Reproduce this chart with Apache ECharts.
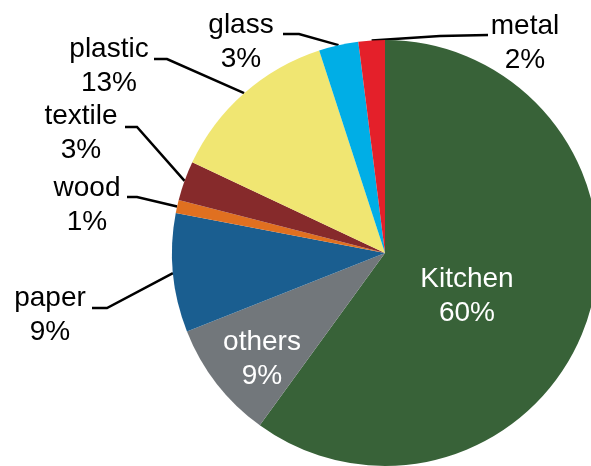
<!DOCTYPE html>
<html>
<head>
<meta charset="utf-8">
<script src="https://cdn.jsdelivr.net/npm/echarts@6/dist/echarts.min.js"></script>
<style>
  html, body { margin: 0; padding: 0; background: #ffffff; }
  #chart { width: 591px; height: 466px; }
</style>
</head>
<body>
<div id="chart"></div>
<script>
// ---- data ----
const categories = ['Kitchen', 'others', 'paper', 'wood', 'textile', 'plastic', 'glass', 'metal'];
const shares = [60, 9, 9, 1, 3, 13, 3, 2];

// ---- styling / layout (not data) ----
const palette = {
  Kitchen: '#386238', others: '#72777b', paper: '#1a5e90', wood: '#e07020',
  textile: '#862a2b', plastic: '#f0e672', glass: '#00aee6', metal: '#e4202a'
};
const insideNames = ['Kitchen', 'others'];
const FONT = 28, LINE_H = 34, MID_OFF = 9;
// label anchor: center x and first-line baseline; leader line elbow/end points
const spots = {
  Kitchen: { cx: 467, base: 288 },
  others:  { cx: 262, base: 351 },
  paper:   { cx: 50,  base: 307, elbow: [107, 308], end: [92, 308] },
  wood:    { cx: 87,  base: 197, elbow: [137, 197], end: [127, 197] },
  textile: { cx: 81,  base: 125, elbow: [137, 127], end: [125, 127] },
  plastic: { cx: 109, base: 58,  elbow: [167, 59],  end: [154, 59] },
  glass:   { cx: 241, base: 34,  elbow: [299, 34],  end: [283, 34] },
  metal:   { cx: 525, base: 35,  elbow: [440, 36],  end: [488, 35] }
};

const seriesData = categories.map(function (name, i) {
  const inside = insideNames.indexOf(name) >= 0;
  return {
    name: name,
    value: shares[i],
    itemStyle: { color: palette[name] },
    label: {
      position: inside ? 'inside' : 'outside',
      color: inside ? '#ffffff' : '#000000'
    },
    labelLine: { show: !inside }
  };
});

const chart = echarts.init(document.getElementById('chart'), null, { renderer: 'canvas' });
chart.setOption({
  animation: false,
  backgroundColor: '#ffffff',
  series: [{
    type: 'pie',
    center: [385, 253],
    radius: 213,
    startAngle: 90,
    clockwise: true,
    avoidLabelOverlap: false,
    itemStyle: { borderWidth: 0 },
    emphasis: { disabled: true },
    label: {
      show: true,
      fontFamily: '"Liberation Sans", Arial, sans-serif',
      fontSize: FONT,
      lineHeight: LINE_H,
      formatter: function (p) { return p.name + '\n' + Math.round(p.percent) + '%'; }
    },
    labelLine: {
      show: true,
      length: 20,
      length2: 10,
      smooth: false,
      lineStyle: { color: '#000000', width: 2.5 }
    },
    labelLayout: function (params) {
      const name = categories[params.dataIndex];
      const s = spots[name];
      const out = {
        x: s.cx,
        y: s.base - MID_OFF - LINE_H / 2,
        align: 'center',
        verticalAlign: 'top'
      };
      if (s.elbow && params.labelLinePoints) {
        const p0 = params.labelLinePoints[0];
        out.labelLinePoints = [[p0[0], p0[1]], s.elbow.slice(), s.end.slice()];
      }
      return out;
    },
    data: seriesData
  }]
});
</script>
</body>
</html>
